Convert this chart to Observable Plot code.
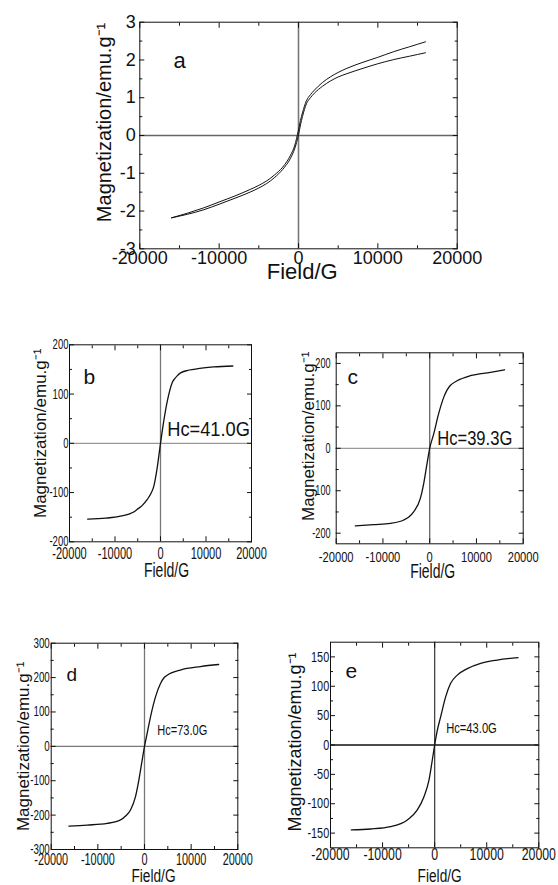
<!DOCTYPE html>
<html><head><meta charset="utf-8">
<script src="https://cdn.jsdelivr.net/npm/d3@7"></script>
<script src="https://cdn.jsdelivr.net/npm/@observablehq/plot@0.6"></script>
<style>
body{margin:0;background:#fff;}
#wrap{position:relative;width:558px;height:885px;overflow:hidden;background:#fff;}
#wrap svg{position:absolute;background:transparent;overflow:visible;}
</style></head><body><div id="wrap"></div>
<script>
// ---------- data ----------
const aField = [-16000,-12000,-10000,-8000,-6000,-5000,-4000,-3000,-2000,-1000,-500,0,250,500,1000,1500,2000,3000,4000,5000,6000,8000,10000,12000,14000,16000];
const aUpper = [-2.18,-1.92,-1.76,-1.60,-1.42,-1.32,-1.20,-1.04,-0.84,-0.52,-0.28,0.15,0.40,0.60,0.92,1.08,1.20,1.40,1.55,1.67,1.77,1.93,2.07,2.22,2.35,2.48];
const aLower = [-2.18,-1.97,-1.82,-1.66,-1.49,-1.39,-1.27,-1.11,-0.90,-0.60,-0.36,0.02,0.28,0.50,0.84,1.00,1.12,1.30,1.44,1.55,1.63,1.77,1.90,2.01,2.10,2.19];

const bField = [-16000,-12000,-8800,-6000,-5100,-4000,-2900,-2000,-1460,-730,0,730,1460,2000,2560,3100,3660,4400,6000,7300,9500,11700,15900];
const bM     = [-154,-152,-148,-140,-134,-126,-114,-100,-87,-50,0,46,84,106,123,131,137,143,148,150,153,155,157];

const cField = [-15900,-12000,-8400,-5560,-4400,-3400,-2000,-1280,-570,0,860,1900,3000,3700,4400,5850,8700,13000,16000];
const cM     = [-183,-180,-177,-169,-161,-149,-118,-83,-36,0,34,81,120,137,148,159,171,179,185];

const dField = [-16200,-12300,-8000,-5140,-4000,-3000,-1930,-1210,-500,0,570,1290,2360,3430,4100,4860,7700,12000,15900];
const dM     = [-232,-229,-224,-214,-202,-185,-146,-98,-40,0,38,86,144,183,198,207,222,232,238];

const eField = [-16000,-12300,-8450,-5250,-3330,-2050,-1090,-450,0,510,1150,2110,3070,4350,6270,8830,12000,16000];
const eM     = [-144.6,-143,-139,-127.6,-110.6,-88,-60,-25.5,0,25,48,82,105,119,130,139,144.6,148.6];

const xTicks = [-20000,-10000,0,10000,20000];
const xMinor = [-15000,-5000,5000,15000];
const aYTicks = [-3,-2,-1,0,1,2,3];
const aYMinor = [-2.5,-1.5,-0.5,0.5,1.5,2.5];
const bYTicks = [-200,-100,0,100,200];
const bYMinor = [-150,-50,50,150];
const cYTicks = [-200,-100,0,100,200];
const cYMinor = [-150,-50,50,150];
const dYTicks = [-300,-200,-100,0,100,200,300];
const dYMinor = [-250,-150,-50,50,150,250];
const eYTicks = [-150,-100,-50,0,50,100,150];
const eYMinor = [-125,-75,-25,25,75,125];

const letters = ["a","b","c","d","e"];
const hcLabels = ["", "Hc=41.0G", "Hc=39.3G", "Hc=73.0G", "Hc=43.0G"];
const xTitle = "Field/G";
const yTitle = "Magnetization/emu.g\u207B\u00B9";

function rowsOf(field, m, branch) { return field.map((f, i) => ({field: f, m: m[i], branch})); }

const FONT = "'Liberation Sans', Arial, Helvetica, sans-serif";
const fmt = d => String(d);
const blank = () => "";

function panel(cfg) {
  const marks = [
    Plot.ruleY([0], {stroke: cfg.zeroH, strokeWidth: cfg.zeroW}),
    Plot.ruleX([0], {stroke: cfg.zeroV, strokeWidth: cfg.zeroW}),
    Plot.line(cfg.rows, {x: "field", y: "m", z: "branch", stroke: "#111", strokeWidth: cfg.lw, curve: "monotone-x"}),
    Plot.frame({stroke: "#111", strokeWidth: 1}),
    Plot.axisX(xTicks, {anchor: "bottom", tickSize: -5, tickPadding: cfg.xPad, fontSize: cfg.xFont, tickFormat: fmt, label: null}),
    Plot.axisX(xMinor, {anchor: "bottom", tickSize: -3, tickFormat: blank, label: null}),
    Plot.axisX(xTicks, {anchor: "top", tickSize: -5, tickFormat: blank, label: null}),
    Plot.axisX(xMinor, {anchor: "top", tickSize: -3, tickFormat: blank, label: null}),
    Plot.axisY(cfg.yTicks, {anchor: "left", tickSize: -5, tickPadding: cfg.yPad, fontSize: cfg.yFont, tickFormat: fmt, label: null}),
    Plot.axisY(cfg.yMinor, {anchor: "left", tickSize: -3, tickFormat: blank, label: null}),
    Plot.axisY(cfg.yTicks, {anchor: "right", tickSize: -5, tickFormat: blank, label: null}),
    Plot.axisY(cfg.yMinor, {anchor: "right", tickSize: -3, tickFormat: blank, label: null}),
    Plot.text([cfg.letter], {frameAnchor: "top-left", textAnchor: "start", lineAnchor: "bottom", dx: cfg.letterDx, dy: cfg.letterDy, fontSize: cfg.letterFont, fill: "#111"}),
    Plot.text([xTitle], {frameAnchor: "bottom", textAnchor: "middle", lineAnchor: "bottom", dx: cfg.xtDx, dy: cfg.xtDy, fontSize: cfg.xtFont, fill: "#111"}),
    Plot.text([yTitle], {frameAnchor: "left", textAnchor: "middle", lineAnchor: "bottom", rotate: -90, dx: cfg.ytDx, dy: cfg.ytDy, fontSize: cfg.ytFont, fill: "#111"})
  ];
  if (cfg.hc) marks.push(Plot.text([cfg.hc], {frameAnchor: "middle", textAnchor: "start", lineAnchor: "bottom", dx: cfg.hcDx, dy: cfg.hcDy, fontSize: cfg.hcFont, fill: "#111"}));
  const svg = Plot.plot({
    width: cfg.w, height: cfg.h,
    marginLeft: cfg.ml, marginRight: cfg.mr, marginTop: cfg.mt, marginBottom: cfg.mb,
    x: {domain: [-20000, 20000]},
    y: {domain: cfg.yDomain},
    style: {fontFamily: FONT, background: "transparent", color: "#111", overflow: "visible"},
    marks
  });
  svg.style.left = cfg.left + "px";
  svg.style.top = cfg.top + "px";
  // horizontal condensing of narrow-font texts (scales around each text's anchor point)
  svg.querySelectorAll("text").forEach(t => {
    const g = t.closest("g[aria-label]");
    const lab = g ? g.getAttribute("aria-label") : "";
    const content = t.textContent;
    let s = 1;
    if (lab.startsWith("x-axis tick label")) s = cfg.xScale;
    else if (lab.startsWith("y-axis tick label")) s = cfg.yScale;
    else if (content === xTitle) s = cfg.xtScale;
    else if (content.startsWith("Hc")) s = cfg.hcScale;
    if (s !== 1) t.setAttribute("transform", (t.getAttribute("transform") || "") + ` scale(${s},1)`);
  });
  return svg;
}

const wrap = document.getElementById("wrap");
const cfgs = [
  {letter: letters[0], hc: hcLabels[0],
   rows: [...rowsOf(aField, aUpper, "up"), ...rowsOf(aField, aLower, "down")],
   left: 0, top: 0, w: 558, h: 300, ml: 139.3, mr: 101.3, mt: 21.7, mb: 51.7,
   yDomain: [-3, 3], yTicks: aYTicks, yMinor: aYMinor,
   zeroH: "#666", zeroV: "#777", zeroW: 1.6, lw: 1,
   xPad: 7.4, xFont: 18, xScale: 1, yPad: 9, yFont: 18, yScale: 1,
   letterDx: 33.7, letterDy: 45.3, letterFont: 22,
   xtDx: 3.7, xtDy: 30, xtFont: 22, xtScale: 1,
   ytDx: -29.3, ytDy: -13, ytFont: 20},
  {letter: letters[1], hc: hcLabels[1], rows: rowsOf(bField, bM, "b"),
   left: 0, top: 300, w: 279, h: 290, ml: 69, mr: 28, mt: 44.3, mb: 48.7,
   yDomain: [-200, 200], yTicks: bYTicks, yMinor: bYMinor,
   zeroH: "#999", zeroV: "#777", zeroW: 1.3, lw: 1.3,
   xPad: 9.7, xFont: 17, xScale: 0.65, yPad: 6, yFont: 14, yScale: 0.68,
   letterDx: 14, letterDy: 38.7, letterFont: 21,
   xtDx: 6, xtDy: 35.4, xtFont: 20, xtScale: 0.7,
   ytDx: -24, ytDy: -10, ytFont: 17,
   hcDx: 6.7, hcDy: -7.8, hcFont: 21, hcScale: 0.87},
  {letter: letters[2], hc: hcLabels[2], rows: rowsOf(cField, cM, "c"),
   left: 279, top: 300, w: 279, h: 290, ml: 56.7, mr: 35.3, mt: 52.3, mb: 46.7,
   yDomain: [-225, 225], yTicks: cYTicks, yMinor: cYMinor,
   zeroH: "#999", zeroV: "#666", zeroW: 1.3, lw: 1.3,
   xPad: 11.7, xFont: 15.5, xScale: 0.72, yPad: 10.7, yFont: 14, yScale: 0.65,
   letterDx: 11.3, letterDy: 30.7, letterFont: 21,
   xtDx: 3, xtDy: 34, xtFont: 20, xtScale: 0.7,
   ytDx: -22.7, ytDy: -12, ytFont: 17,
   hcDx: 7.5, hcDy: -3, hcFont: 21, hcScale: 0.79},
  {letter: letters[3], hc: hcLabels[3], rows: rowsOf(dField, dM, "d"),
   left: 0, top: 590, w: 279, h: 295, ml: 50.7, mr: 41.7, mt: 52.7, mb: 36,
   yDomain: [-300, 300], yTicks: dYTicks, yMinor: dYMinor,
   zeroH: "#777", zeroV: "#777", zeroW: 1.3, lw: 1.3,
   xPad: 9, xFont: 16, xScale: 0.68, yPad: 6.4, yFont: 14, yScale: 0.7,
   letterDx: 15.3, letterDy: 37.3, letterFont: 19,
   xtDx: 9, xtDy: 32, xtFont: 19, xtScale: 0.72,
   ytDx: -22.7, ytDy: 0, ytFont: 17,
   hcDx: 12.7, hcDy: -11, hcFont: 14, hcScale: 0.79},
  {letter: letters[4], hc: hcLabels[4], rows: rowsOf(eField, eM, "e"),
   left: 279, top: 590, w: 279, h: 295, ml: 51, mr: 19.7, mt: 51.7, mb: 37.7,
   yDomain: [-175, 175], yTicks: eYTicks, yMinor: eYMinor,
   zeroH: "#111", zeroV: "#444", zeroW: 1.3, lw: 1.3,
   xPad: 6, xFont: 16, xScale: 0.77, yPad: 6.3, yFont: 14.5, yScale: 0.75,
   letterDx: 15, letterDy: 35.3, letterFont: 21,
   xtDx: 5, xtDy: 33.7, xtFont: 19, xtScale: 0.72,
   ytDx: -30, ytDy: -3, ytFont: 18,
   hcDx: 11.5, hcDy: -12.5, hcFont: 14, hcScale: 0.8}
];
cfgs.forEach(c => wrap.appendChild(panel(c)));
</script></body></html>
